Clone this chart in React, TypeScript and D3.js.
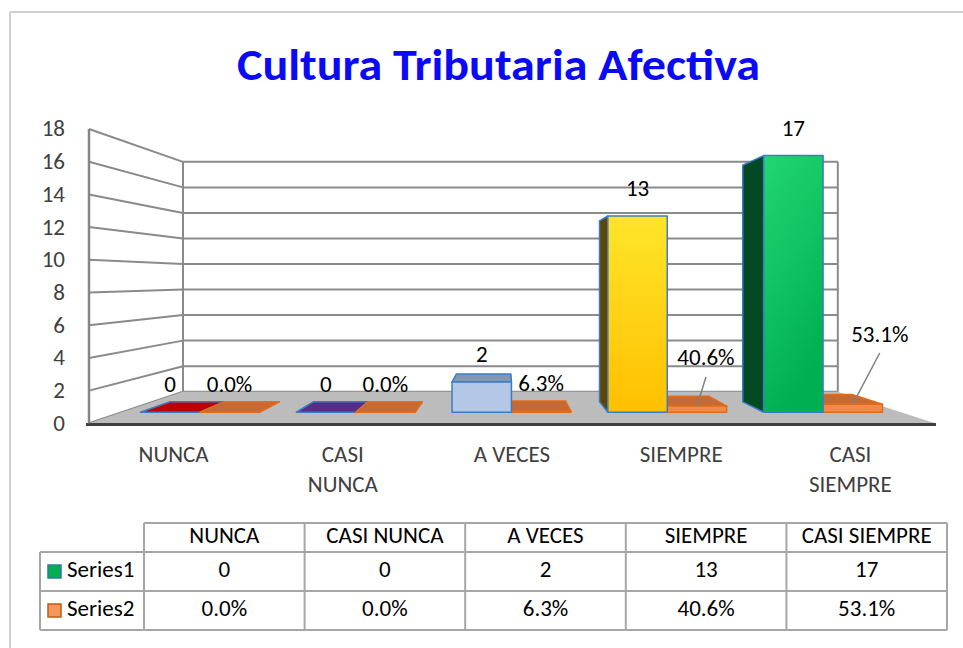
import React from 'react';
import * as d3 from 'd3';

// ---------- data ----------
const categories = ['NUNCA', 'CASI NUNCA', 'A VECES', 'SIEMPRE', 'CASI SIEMPRE'];
const categoryLines = [['NUNCA'], ['CASI', 'NUNCA'], ['A VECES'], ['SIEMPRE'], ['CASI', 'SIEMPRE']];
const seriesNames = ['Series1', 'Series2'];
const series1 = [0, 0, 2, 13, 17];
const series2Pct = [0.0, 0.0, 6.3, 40.6, 53.1];
const yTicks = [0, 2, 4, 6, 8, 10, 12, 14, 16, 18];
const titleText = 'Cultura Tributaria Afectiva';

// ---------- styles ----------
const FONT = "Carlito, Calibri, Lato, 'Liberation Sans', sans-serif";
const FS = 23;
const s1Front = ['#c00000', '#5b2c86', '#b4c7e7', 'url(#gYellow)', 'url(#gGreen)'];
const s1Side = ['#600000', '#2d1643', '#5a6373', '#5e4600', '#034a24'];
const s1Top = ['#c00000', '#5b2c86', '#8497b0', '#bf9000', '#00873c'];
const s1Stroke = '#3b7dc4';
const s2Front = '#f08a46';
const s2Side = '#a2501c';
const s2Top = '#c46a37';
const s2Stroke = '#e06c1c';
// manual label offsets of Series2 labels (moved labels with leader lines)
const s2LabelShift: [number, number][] = [[0, 0], [0, 0], [0, 0], [9, -20.6], [27, -42.7]];

// ---------- geometry ----------
const W = 963, H = 648;
const VX = 504.9, VY = 279;
const sx = (d: number) => 1 - 0.226 * d;
const sy = (d: number) => 1 - 0.219 * d;
const proj = (xf: number, yf: number, d: number): [number, number] => [
  VX + (xf - VX) * sx(d),
  VY + (yf - VY) * sy(d),
];
const D0 = 0.35, D1 = 0.68;

const x0 = d3.scaleBand<string>().domain(categories).range([89, 935]).padding(0);
const x1 = d3.scaleBand<string>().domain(seriesNames).range([0, x0.bandwidth()]).paddingInner(0).paddingOuter(0.3116);
const y = d3.scaleLinear().domain([0, 18]).range([423.3, 129]);

const pts = (p: [number, number][]) => p.map(q => q.join(',')).join(' ');

type Bar = {
  key: string; xl: number; xr: number; v: number;
  front: string; side: string; top: string; stroke: string;
};

const bars: Bar[] = [];
categories.forEach((c, i) => {
  const xa = x0(c)! + x1('Series1')!;
  bars.push({ key: `s1-${i}`, xl: xa, xr: xa + x1.bandwidth(), v: series1[i],
    front: s1Front[i], side: s1Side[i], top: s1Top[i], stroke: s1Stroke });
  const xb = x0(c)! + x1('Series2')!;
  bars.push({ key: `s2-${i}`, xl: xb, xr: xb + x1.bandwidth(), v: series2Pct[i] / 100,
    front: s2Front, side: s2Side, top: s2Top, stroke: s2Stroke });
});
const ordered = [...bars].sort((a, b) =>
  Math.abs((b.xl + b.xr) / 2 - VX) - Math.abs((a.xl + a.xr) / 2 - VX));

function BarShape({ b }: { b: Bar }) {
  const yT = y(b.v), yB = y(0);
  const FTL = proj(b.xl, yT, D0), FTR = proj(b.xr, yT, D0);
  const FBL = proj(b.xl, yB, D0), FBR = proj(b.xr, yB, D0);
  const BTL = proj(b.xl, yT, D1), BTR = proj(b.xr, yT, D1);
  const BBL = proj(b.xl, yB, D1), BBR = proj(b.xr, yB, D1);
  const common = { stroke: b.stroke, strokeWidth: 1.5, strokeLinejoin: 'round' as const };
  return (
    <g>
      {b.xl > VX && <polygon points={pts([FTL, BTL, BBL, FBL])} fill={b.side} {...common} />}
      {b.xr < VX && <polygon points={pts([FTR, BTR, BBR, FBR])} fill={b.side} {...common} />}
      {BTL[1] < FTL[1] && <polygon points={pts([FTL, FTR, BTR, BTL])} fill={b.top} {...common} />}
      {FBL[1] - FTL[1] > 0.5 && <polygon points={pts([FTL, FTR, FBR, FBL])} fill={b.front} {...common} />}
    </g>
  );
}

export default function App() {
  const back = (v: number) => proj(89, y(v), 1);
  const backR = (v: number) => proj(935, y(v), 1);
  const floor = [proj(89, y(0), 0), back(0), backR(0), proj(935, y(0), 0)] as [number, number][];

  const col = d3.scaleBand<string>().domain(categories).range([144, 947]);
  const rowEdges = [523, 552, 591, 630];
  const rowMid = (r: number) => (rowEdges[r] + rowEdges[r + 1]) / 2;
  const fmtPct = (v: number) => d3.format('.1f')(v) + '%';

  return (
    <svg width={W} height={H} style={{ position: 'absolute', left: 0, top: 0, display: 'block', background: '#fff' }}
      fontFamily={FONT}>
      <defs>
        <linearGradient id="gYellow" x1="0" y1="0" x2="0" y2="1">
          <stop offset="0" stopColor="#ffe52a" />
          <stop offset="1" stopColor="#ffc000" />
        </linearGradient>
        <linearGradient id="gGreen" x1="0" y1="0" x2="0.35" y2="1">
          <stop offset="0" stopColor="#22d673" />
          <stop offset="1" stopColor="#00b050" />
        </linearGradient>
      </defs>
      <rect x={0} y={0} width={W} height={H} fill="#fff" />
      {/* chart border */}
      <line x1={10} y1={12} x2={W} y2={12} stroke="#d0d0d0" strokeWidth={2} />
      <line x1={10} y1={12} x2={10} y2={H} stroke="#d0d0d0" strokeWidth={2} />

      {/* title */}
      <text x={498.5} y={80} textAnchor="middle" fontSize={44} fontWeight="bold" fill="#0a0af5"
        textLength={523} lengthAdjust="spacingAndGlyphs">{titleText}</text>

      {/* walls */}
      <polygon points={pts([proj(89, y(18), 0), back(18), back(0), proj(89, y(0), 0)])} fill="#fff" />
      <polygon points={pts([back(18), backR(18), backR(0), back(0)])} fill="#fff" />
      {yTicks.map(t => (
        <g key={`g${t}`}>
          <line x1={89} y1={y(t)} x2={back(t)[0]} y2={back(t)[1]} stroke="#8a8a8a" strokeWidth={2} />
          <line x1={back(t)[0]} y1={back(t)[1]} x2={backR(t)[0]} y2={backR(t)[1]} stroke="#8a8a8a" strokeWidth={2} />
        </g>
      ))}
      <line x1={back(0)[0]} y1={back(0)[1]} x2={back(18)[0]} y2={back(18)[1]} stroke="#8a8a8a" strokeWidth={2} />
      <line x1={backR(0)[0]} y1={backR(0)[1]} x2={backR(18)[0]} y2={backR(18)[1]} stroke="#8a8a8a" strokeWidth={2} />

      {/* floor */}
      <polygon points={pts(floor)} fill="#bcbcbc" />
      <line x1={86} y1={424.5} x2={936} y2={424.5} stroke="#404040" strokeWidth={3} />
      {/* value axis */}
      <line x1={89} y1={y(18)} x2={89} y2={y(0)} stroke="#868686" strokeWidth={2.5} />
      {yTicks.map(t => (
        <text key={`t${t}`} x={65} y={y(t) + 2} textAnchor="end" dominantBaseline="middle" fontSize={FS} fill="#404040">{t}</text>
      ))}

      {/* bars */}
      {ordered.map(b => <BarShape key={b.key} b={b} />)}

      {/* data labels */}
      {categories.map((c, i) => {
        const cx = x0(c)! + x1('Series1')! + x1.bandwidth() / 2;
        const p = proj(cx, y(series1[i]), D0);
        return <text key={`l1${i}`} x={p[0]} y={p[1] - 25.5} textAnchor="middle" dominantBaseline="middle" fontSize={FS} fill="#000">{series1[i]}</text>;
      })}
      {categories.map((c, i) => {
        const cx = x0(c)! + x1('Series2')! + x1.bandwidth() / 2;
        const p = proj(cx, y(series2Pct[i] / 100), D0);
        const [dx, dy] = s2LabelShift[i];
        const lx = p[0] + dx, ly = p[1] - 25.5 + dy;
        return (
          <g key={`l2${i}`}>
            {(dx !== 0 || dy !== 0) && <line x1={lx} y1={ly + 17} x2={p[0]} y2={p[1]} stroke="#808080" strokeWidth={1.5} />}
            <text x={lx} y={ly} textAnchor="middle" dominantBaseline="middle" fontSize={FS} fill="#000">{fmtPct(series2Pct[i])}</text>
          </g>
        );
      })}

      {/* category labels */}
      {categories.map((c, i) => (
        <text key={`c${i}`} x={x0(c)! + x0.bandwidth() / 2} y={457} textAnchor="middle" dominantBaseline="middle" fontSize={FS} fill="#404040">
          {categoryLines[i].map((ln, k) => (
            <tspan key={k} x={x0(c)! + x0.bandwidth() / 2} dy={k === 0 ? 0 : 30}>{ln}</tspan>
          ))}
        </text>
      ))}

      {/* data table */}
      <g stroke="#a6a6a6" strokeWidth={2}>
        <line x1={144} y1={rowEdges[0]} x2={947} y2={rowEdges[0]} />
        {rowEdges.slice(1).map(r => <line key={`h${r}`} x1={40} y1={r} x2={947} y2={r} />)}
        <line x1={40} y1={rowEdges[1]} x2={40} y2={rowEdges[3]} />
        {categories.map(c => <line key={`v${c}`} x1={col(c)!} y1={rowEdges[0]} x2={col(c)!} y2={rowEdges[3]} />)}
        <line x1={947} y1={rowEdges[0]} x2={947} y2={rowEdges[3]} />
      </g>
      {categories.map(c => (
        <text key={`th${c}`} x={col(c)! + col.bandwidth() / 2} y={rowMid(0)} textAnchor="middle" dominantBaseline="middle" fontSize={FS} fill="#000">{c}</text>
      ))}
      {categories.map((c, i) => (
        <text key={`r1${c}`} x={col(c)! + col.bandwidth() / 2} y={rowMid(1)} textAnchor="middle" dominantBaseline="middle" fontSize={FS} fill="#000">{series1[i]}</text>
      ))}
      {categories.map((c, i) => (
        <text key={`r2${c}`} x={col(c)! + col.bandwidth() / 2} y={rowMid(2)} textAnchor="middle" dominantBaseline="middle" fontSize={FS} fill="#000">{fmtPct(series2Pct[i])}</text>
      ))}
      {/* legend keys */}
      <rect x={48} y={rowMid(1) - 6.5} width={13} height={13} fill="#00b050" stroke="#2e75b6" strokeWidth={1.5} />
      <text x={67} y={rowMid(1)} dominantBaseline="middle" fontSize={FS} fill="#000">{seriesNames[0]}</text>
      <rect x={48} y={rowMid(2) - 6.5} width={13} height={13} fill="#f4975a" stroke="#c55a11" strokeWidth={1.5} />
      <text x={67} y={rowMid(2)} dominantBaseline="middle" fontSize={FS} fill="#000">{seriesNames[1]}</text>
    </svg>
  );
}
